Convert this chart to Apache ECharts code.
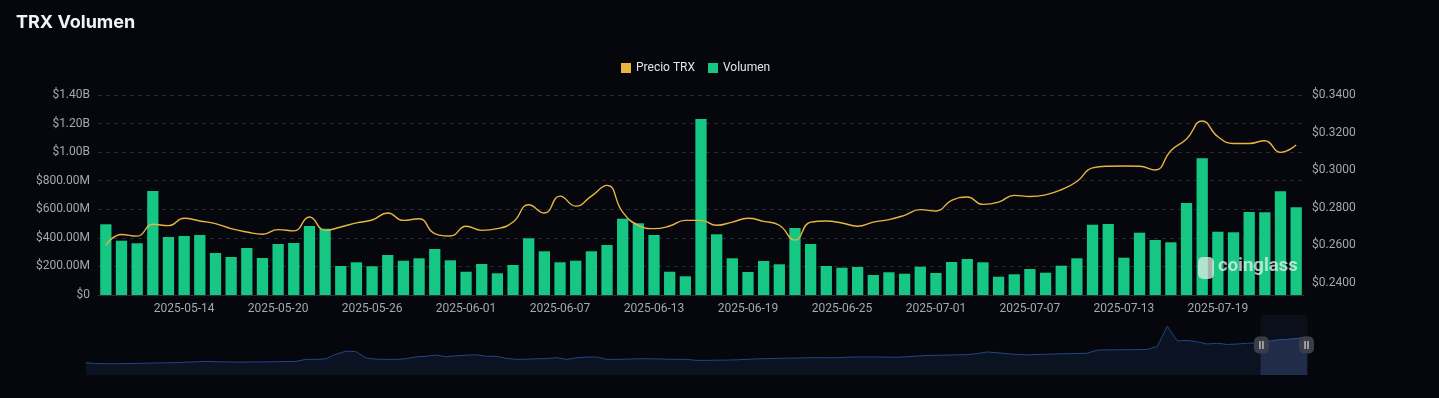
<!DOCTYPE html>
<html lang="es">
<head>
	<meta charset="UTF-8">
	<title>TRX Volumen</title>
	<style>
		html, body {
			margin: 0;
			padding: 0;
			background: #05070c;
		}
		.chart-box {
			width: 1439px;
			height: 398px;
		}
	</style>
</head>
<body>
<div id="main" class="chart-box"></div>

<script src="https://cdn.jsdelivr.net/npm/echarts@6.0.0/dist/echarts.min.js"></script>
<script>

	var dates = [
		'2025-05-09', '2025-05-10', '2025-05-11', '2025-05-12', '2025-05-13', '2025-05-14', '2025-05-15', '2025-05-16',
		'2025-05-17', '2025-05-18', '2025-05-19', '2025-05-20', '2025-05-21', '2025-05-22', '2025-05-23', '2025-05-24',
		'2025-05-25', '2025-05-26', '2025-05-27', '2025-05-28', '2025-05-29', '2025-05-30', '2025-05-31',
		'2025-06-01', '2025-06-02', '2025-06-03', '2025-06-04', '2025-06-05', '2025-06-06', '2025-06-07', '2025-06-08',
		'2025-06-09', '2025-06-10', '2025-06-11', '2025-06-12', '2025-06-13', '2025-06-14', '2025-06-15', '2025-06-16',
		'2025-06-17', '2025-06-18', '2025-06-19', '2025-06-20', '2025-06-21', '2025-06-22', '2025-06-23', '2025-06-24',
		'2025-06-25', '2025-06-26', '2025-06-27', '2025-06-28', '2025-06-29', '2025-06-30',
		'2025-07-01', '2025-07-02', '2025-07-03', '2025-07-04', '2025-07-05', '2025-07-06', '2025-07-07', '2025-07-08',
		'2025-07-09', '2025-07-10', '2025-07-11', '2025-07-12', '2025-07-13', '2025-07-14', '2025-07-15', '2025-07-16',
		'2025-07-17', '2025-07-18', '2025-07-19', '2025-07-20', '2025-07-21', '2025-07-22', '2025-07-23', '2025-07-24'
	];

	// volumen diario, en millones de USD
	var volumen = [
		495, 380, 362, 728, 406, 413, 420, 294, 266, 329, 259, 357, 364, 483, 464, 203,
		229, 201, 280, 240, 257, 322, 243, 163, 217, 152, 210, 397, 306, 229, 240, 306,
		350, 534, 502, 420, 163, 131, 1232, 425, 257, 161, 238, 215, 469, 357, 203, 191,
		196, 140, 159, 149, 198, 154, 231, 252, 229, 128, 145, 182, 156, 205, 257, 492,
		497, 261, 436, 385, 369, 644, 957, 443, 439, 581, 579, 726, 614
	];

	var precio = [
		0.2601, 0.2658, 0.2649, 0.2712, 0.2705, 0.2744, 0.2730, 0.2716, 0.2689, 0.2671, 0.2659, 0.2684,
		0.2677, 0.2751, 0.2680, 0.2698, 0.2720, 0.2735, 0.2772, 0.2733, 0.2742, 0.2663, 0.2650, 0.2702,
		0.2680, 0.2689, 0.2724, 0.2816, 0.2772, 0.2862, 0.2809, 0.2862, 0.2919, 0.2777, 0.2707, 0.2689,
		0.2703, 0.2733, 0.2733, 0.2707, 0.2724, 0.2744, 0.2728, 0.2707, 0.2628, 0.2724, 0.2730, 0.2719,
		0.2702, 0.2724, 0.2737, 0.2760, 0.2790, 0.2783, 0.2839, 0.2857, 0.2818, 0.2830, 0.2866, 0.2860,
		0.2869, 0.2896, 0.2940, 0.3012, 0.3021, 0.3022, 0.3021, 0.3001, 0.3104, 0.3166, 0.3262, 0.3178,
		0.3142, 0.3142, 0.3157, 0.3095, 0.3134
	];

	// historico completo del precio (solo para la sombra del slider)
	var historico = [
		0.028, 0.020, 0.017, 0.017, 0.019, 0.020, 0.023, 0.025, 0.027, 0.029, 0.034, 0.038,
		0.043, 0.039, 0.037, 0.035, 0.036, 0.037, 0.038, 0.039, 0.041, 0.043, 0.065, 0.065,
		0.071, 0.121, 0.155, 0.149, 0.080, 0.067, 0.065, 0.065, 0.071, 0.093, 0.099, 0.112,
		0.093, 0.104, 0.110, 0.116, 0.099, 0.099, 0.076, 0.065, 0.067, 0.071, 0.073, 0.084,
		0.065, 0.082, 0.090, 0.091, 0.065, 0.065, 0.067, 0.071, 0.072, 0.070, 0.067, 0.065,
		0.065, 0.054, 0.054, 0.056, 0.057, 0.060, 0.065, 0.070, 0.073, 0.075, 0.078, 0.080,
		0.082, 0.084, 0.082, 0.083, 0.088, 0.091, 0.091, 0.091, 0.090, 0.088, 0.093, 0.101,
		0.107, 0.110, 0.112, 0.114, 0.117, 0.127, 0.146, 0.138, 0.127, 0.119, 0.114, 0.118,
		0.121, 0.125, 0.127, 0.129, 0.132, 0.166, 0.169, 0.169, 0.170, 0.172, 0.174, 0.205,
		0.427, 0.267, 0.272, 0.256, 0.233, 0.241, 0.228, 0.233, 0.241, 0.247, 0.261, 0.278,
		0.284, 0.295, 0.312
	];

	var historicoIdx = [];
	for (var i = 0; i < historico.length; i++) {
		historicoIdx.push(String(i));
	}

	var colorPrecio = '#e8b442';
	var colorVolumen = '#16c784';

	var handleSvg = 'image://data:image/svg+xml;utf8,' + encodeURIComponent(
		'<svg xmlns="http://www.w3.org/2000/svg" width="20" height="20" viewBox="0 0 20 20">' +
		'<rect x="2.5" y="1.5" width="15" height="17" rx="5" ry="5" fill="#3a3d47"/>' +
		'<line x1="8.5" y1="6" x2="8.5" y2="14" stroke="#c8ccd4" stroke-width="1.3"/>' +
		'<line x1="11.5" y1="6" x2="11.5" y2="14" stroke="#c8ccd4" stroke-width="1.3"/>' +
		'</svg>');

	function fmtVolumen(v) {
		if (v === 0) {
			return '$0';
		}
		if (v >= 1000) {
			return '$' + (v / 1000).toFixed(2) + 'B';
		}
		return '$' + v.toFixed(2) + 'M';
	}

	function fmtPrecio(v) {
		// solo las marcas redondas, la del minimo no se muestra
		if (Math.abs(Math.round(v / 0.02) * 0.02 - v) > 1e-6) {
			return '';
		}
		return '$' + v.toFixed(4);
	}

	function cadaSeis(index) {
		return index % 6 === 5;
	}

	var myChart = echarts.init(document.getElementById('main'), null, {renderer: 'canvas'});

	var option = {
		backgroundColor: '#05070c',
		animation: false,
		textStyle: {
			fontFamily: 'Roboto, "Noto Sans", sans-serif'
		},
		title: {
			text: 'TRX Volumen',
			left: 11,
			top: 9,
			textStyle: {
				color: '#f2f4f7',
				fontSize: 18,
				fontWeight: 'bold',
				fontFamily: 'Inter, Roboto, sans-serif'
			}
		},
		legend: {
			data: ['Precio TRX', 'Volumen'],
			left: 616,
			top: 57,
			icon: 'rect',
			itemWidth: 10,
			itemHeight: 10,
			itemGap: 13,
			textStyle: {
				color: '#e2e5ea',
				fontSize: 12
			}
		},
		graphic: [{
			type: 'rect',
			left: 1198,
			top: 257,
			z: 100,
			shape: {width: 16, height: 22, r: 5},
			style: {fill: 'rgba(235,240,238,0.72)'},
			silent: true
		}, {
			type: 'text',
			left: 1218,
			top: 257,
			z: 100,
			style: {
				text: 'coinglass',
				fill: 'rgba(235,240,238,0.75)',
				font: 'bold 18.5px Roboto, sans-serif'
			},
			silent: true
		}],
		grid: [{
			left: 98,
			right: 135,
			top: 95,
			bottom: 103
		}, {
			left: 83,
			right: 134,
			top: 315,
			height: 60,
			show: false
		}],
		xAxis: [{
			type: 'category',
			gridIndex: 0,
			data: dates,
			boundaryGap: true,
			axisLine: {
				lineStyle: {color: '#2a2e37'}
			},
			axisTick: {
				interval: cadaSeis,
				length: 5,
				lineStyle: {color: '#2a2e37'}
			},
			axisLabel: {
				interval: cadaSeis,
				color: '#a4a8b0',
				fontSize: 12,
				margin: 8
			}
		}, {
			type: 'category',
			gridIndex: 1,
			data: historicoIdx,
			show: false
		}],
		yAxis: [{
			type: 'value',
			gridIndex: 0,
			min: 0,
			max: 1400,
			interval: 200,
			axisLine: {show: false},
			axisTick: {show: false},
			axisLabel: {
				color: '#a4a8b0',
				fontSize: 12,
				margin: 8,
				formatter: fmtVolumen
			},
			splitLine: {
				lineStyle: {color: '#242830', type: [4, 4]}
			}
		}, {
			type: 'value',
			gridIndex: 0,
			position: 'right',
			min: 0.2336,
			max: 0.34,
			splitNumber: 5,
			axisLine: {show: false},
			axisTick: {show: false},
			splitLine: {show: false},
			axisLabel: {
				color: '#a4a8b0',
				fontSize: 12,
				margin: 8,
				showMinLabel: false,
				formatter: fmtPrecio
			}
		}, {
			type: 'value',
			gridIndex: 1,
			scale: true,
			show: false
		}],
		dataZoom: [{
			type: 'slider',
			xAxisIndex: 1,
			start: 96.15,
			end: 100,
			left: 83,
			right: 134,
			top: 315,
			height: 60,
			showDetail: false,
			brushSelect: false,
			zoomLock: true,
			backgroundColor: 'transparent',
			borderColor: 'transparent',
			fillerColor: 'rgba(50,70,120,0.12)',
			dataBackground: {
				lineStyle: {color: '#244585', width: 1, opacity: 1},
				areaStyle: {color: '#0b1221', opacity: 1}
			},
			selectedDataBackground: {
				lineStyle: {color: '#2f5299', width: 1, opacity: 1},
				areaStyle: {color: '#1e2843', opacity: 1}
			},
			handleIcon: handleSvg,
			handleSize: 20,
			handleStyle: {
				color: '#3a3d47',
				borderColor: 'transparent'
			}
		}],
		series: [{
			name: 'Precio TRX',
			type: 'line',
			xAxisIndex: 0,
			yAxisIndex: 1,
			data: precio,
			smooth: true,
			showSymbol: false,
			z: 5,
			lineStyle: {
				color: colorPrecio,
				width: 1.4
			},
			itemStyle: {
				color: colorPrecio
			}
		}, {
			name: 'Volumen',
			type: 'bar',
			xAxisIndex: 0,
			yAxisIndex: 0,
			data: volumen,
			barCategoryGap: '28%',
			z: 2,
			itemStyle: {
				color: colorVolumen
			}
		}, {
			name: 'historico',
			type: 'line',
			xAxisIndex: 1,
			yAxisIndex: 2,
			data: historico,
			showSymbol: false,
			silent: true,
			lineStyle: {opacity: 0},
			itemStyle: {opacity: 0}
		}]
	};

	myChart.setOption(option);

</script>
</body>
</html>
